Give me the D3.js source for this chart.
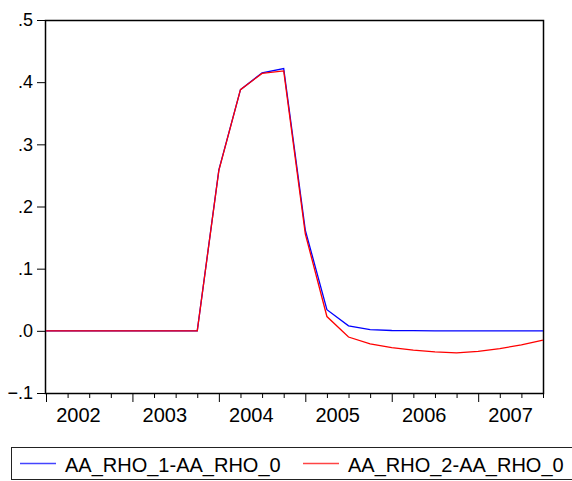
<!DOCTYPE html>
<html>
<head>
<meta charset="utf-8">
<script src="https://cdn.jsdelivr.net/npm/d3@7"></script>
<style>
  body { margin: 0; background: #fff; }
  text { font-family: "Liberation Sans", Arial, sans-serif; fill: #000; }
</style>
</head>
<body>
<script>
// quarterly periods 2002Q1 .. 2007Q4
var quarters = ["2002Q1","2002Q2","2002Q3","2002Q4","2003Q1","2003Q2","2003Q3","2003Q4",
                "2004Q1","2004Q2","2004Q3","2004Q4","2005Q1","2005Q2","2005Q3","2005Q4",
                "2006Q1","2006Q2","2006Q3","2006Q4","2007Q1","2007Q2","2007Q3","2007Q4"];
var years = ["2002","2003","2004","2005","2006","2007"];

var rho1 = [0,0,0,0,0,0,0,0,0.259,0.388,0.415,0.422,0.162,0.034,0.008,0.002,
            0.0005,0.0002,0,0,0,0,0,0];
var rho2 = [0,0,0,0,0,0,0,0,0.258,0.388,0.414,0.418,0.156,0.023,-0.010,-0.021,
            -0.027,-0.031,-0.034,-0.0355,-0.033,-0.0285,-0.0225,-0.015];

var seriesNames = ["AA_RHO_1-AA_RHO_0", "AA_RHO_2-AA_RHO_0"];
var yTicks = [-0.1, 0, 0.1, 0.2, 0.3, 0.4, 0.5];

var W = 572, H = 481;
var plotL = 45, plotR = 543, plotT = 20, plotB = 393;

var svg = d3.select("body").append("svg")
    .attr("width", W)
    .attr("height", H);

var x = d3.scaleLinear()
    .domain([0, quarters.length - 1])
    .range([plotL + 1, plotR]);

var y = d3.scaleLinear()
    .domain([-0.1, 0.5])
    .range([plotB, plotT]);

// y axis
var yAxis = d3.axisLeft(y)
    .tickValues(yTicks)
    .tickSize(8)
    .tickPadding(4)
    .tickFormat(function(d) { return d3.format(".1f")(d).replace("0.", "."); });

var gy = svg.append("g")
    .attr("transform", "translate(" + plotL + ",0)")
    .call(yAxis);
gy.select(".domain").remove();
gy.selectAll("line").attr("stroke", "#000");
gy.selectAll("text").style("font-size", "18px").attr("x", -12);

// x axis: quarterly minor ticks, longer ticks at each year start
var xAxis = d3.axisBottom(x)
    .tickValues(d3.range(quarters.length))
    .tickFormat("");
var gx = svg.append("g")
    .attr("transform", "translate(0," + plotB + ")")
    .call(xAxis);
gx.select(".domain").remove();
gx.selectAll("line")
    .attr("stroke", "#000")
    .attr("y2", function(d) { return quarters[d].slice(4) === "Q1" ? 9 : 5; });

// year labels centred in each year's span
var gl = svg.append("g");
gl.selectAll("text")
    .data(years)
  .enter().append("text")
    .attr("x", function(d, i) { return x(i * 4 + 1.5); })
    .attr("y", 422)
    .attr("text-anchor", "middle")
    .style("font-size", "20px")
    .text(function(d) { return d; });

// frame
svg.append("rect")
    .attr("x", plotL + 0.5)
    .attr("y", plotT + 0.5)
    .attr("width", plotR - plotL)
    .attr("height", plotB - plotT)
    .attr("fill", "none")
    .attr("stroke", "#000")
    .attr("stroke-width", 1.5);

var line = d3.line()
    .x(function(d, i) { return x(i); })
    .y(function(d) { return y(d); });

svg.append("path")
    .attr("d", line(rho1))
    .attr("fill", "none")
    .attr("stroke", "#0000ff")
    .attr("stroke-width", 1.3);

svg.append("path")
    .attr("d", line(rho2))
    .attr("fill", "none")
    .attr("stroke", "#ff0000")
    .attr("stroke-width", 1.3);

// legend
var lg = svg.append("g");
lg.append("rect")
    .attr("x", 11.5)
    .attr("y", 447.5)
    .attr("width", 570)
    .attr("height", 32)
    .attr("fill", "none")
    .attr("stroke", "#222")
    .attr("stroke-width", 1);

var legendItems = [
  {name: seriesNames[0], color: "#4444ff", x0: 20},
  {name: seriesNames[1], color: "#ff4444", x0: 303}
];
legendItems.forEach(function(it) {
  lg.append("line")
    .attr("x1", it.x0).attr("x2", it.x0 + 36)
    .attr("y1", 463.5).attr("y2", 463.5)
    .attr("stroke", it.color)
    .attr("stroke-width", 1.3);
  lg.append("text")
    .attr("x", it.x0 + 45)
    .attr("y", 472)
    .style("font-size", "20px")
    .text(it.name);
});
</script>
</body>
</html>
